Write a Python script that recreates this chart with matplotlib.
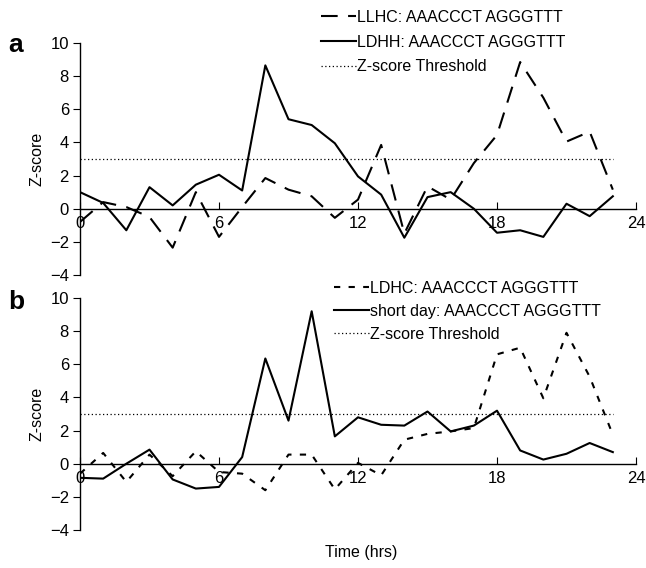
import numpy as np
import matplotlib
matplotlib.use("Agg")
import matplotlib.pyplot as plt

plt.rcParams['font.family'] = ['Liberation Sans', 'DejaVu Sans']

hours = list(range(24))
threshold = 3

# panel a
llhc = [-0.8, 0.4, 0.1, -0.5, -2.35, 1.0, -1.7, 0.1, 1.85, 1.15, 0.75, -0.55,
        0.55, 3.85, -1.5, 1.35, 0.55, 2.75, 4.45, 8.85, 6.7, 4.05, 4.65, 1.15]
ldhh = [1.0, 0.35, -1.3, 1.3, 0.2, 1.45, 2.05, 1.1, 8.65, 5.4, 5.05, 3.95,
        1.95, 0.85, -1.75, 0.7, 1.0, 0.0, -1.45, -1.3, -1.7, 0.3, -0.45, 0.75]

# panel b
ldhc = [-0.6, 0.65, -1.1, 0.55, -0.75, 0.75, -0.5, -0.6, -1.6, 0.55, 0.55, -1.55,
        0.05, -0.7, 1.45, 1.8, 1.95, 2.15, 6.6, 7.0, 3.95, 7.9, 5.25, 1.75]
short_day = [-0.85, -0.9, 0.0, 0.85, -0.95, -1.5, -1.4, 0.4, 6.35, 2.6, 9.2, 1.65,
             2.8, 2.35, 2.3, 3.15, 1.95, 2.3, 3.2, 0.8, 0.25, 0.6, 1.25, 0.7]

x_ticks = [0, 6, 12, 18, 24]
y_ticks = [-4, -2, 0, 2, 4, 6, 8, 10]

W, H = 646, 568
fig = plt.figure(figsize=(W / 100, H / 100), dpi=100)


def setup_axes(ax):
    ax.set_xlim(0, 24)
    ax.set_ylim(-4, 10)
    ax.spines['top'].set_visible(False)
    ax.spines['right'].set_visible(False)
    ax.spines['bottom'].set_position(('data', 0))
    ax.spines['left'].set_linewidth(1.0)
    ax.spines['bottom'].set_linewidth(1.0)
    ax.set_xticks(x_ticks)
    ax.set_yticks(y_ticks)
    ax.tick_params(axis='x', direction='in', length=5, pad=5, labelsize=12)
    ax.tick_params(axis='y', direction='out', length=5, pad=3, labelsize=12)
    ax.set_ylabel('Z-score', fontsize=11.5, labelpad=4)
    ax.patch.set_alpha(0)


def add_legend(ax, x, y, spacing):
    ax.legend(loc='upper left', bbox_to_anchor=(x / W, 1 - y / H), bbox_transform=fig.transFigure,
              frameon=False, fontsize=11.5, handlelength=2.2, handletextpad=0.05,
              labelspacing=spacing, borderaxespad=0, borderpad=0)


thr_line = [threshold] * len(hours)

# panel a
ax1 = fig.add_axes([80 / W, 1 - 275 / H, 556 / W, 232 / H])
setup_axes(ax1)
ax1.plot(hours, llhc, color='black', lw=1.5, dashes=(8, 5), label='LLHC: AAACCCT AGGGTTT')
ax1.plot(hours, ldhh, color='black', lw=1.5, label='LDHH: AAACCCT AGGGTTT')
ax1.plot(hours, thr_line, color='black', lw=0.9, dashes=(1, 2), label='Z-score Threshold')
add_legend(ax1, 321, 10, 0.6)
fig.text(8 / W, 1 - 45 / H, 'a', fontsize=19, fontweight='bold', va='center')

# panel b
ax2 = fig.add_axes([80 / W, 1 - 530 / H, 556 / W, 232 / H])
setup_axes(ax2)
ax2.plot(hours, ldhc, color='black', lw=1.5, dashes=(3, 4), label='LDHC: AAACCCT AGGGTTT')
ax2.plot(hours, short_day, color='black', lw=1.5, label='short day: AAACCCT AGGGTTT')
ax2.plot(hours, thr_line, color='black', lw=0.9, dashes=(1, 2), label='Z-score Threshold')
add_legend(ax2, 334, 281, 0.5)
fig.text(8 / W, 1 - 302 / H, 'b', fontsize=19, fontweight='bold', va='center')

fig.text(361 / W, 1 - 553 / H, 'Time (hrs)', fontsize=11.5, ha='center', va='center')

fig.savefig('out.png', dpi=100)
